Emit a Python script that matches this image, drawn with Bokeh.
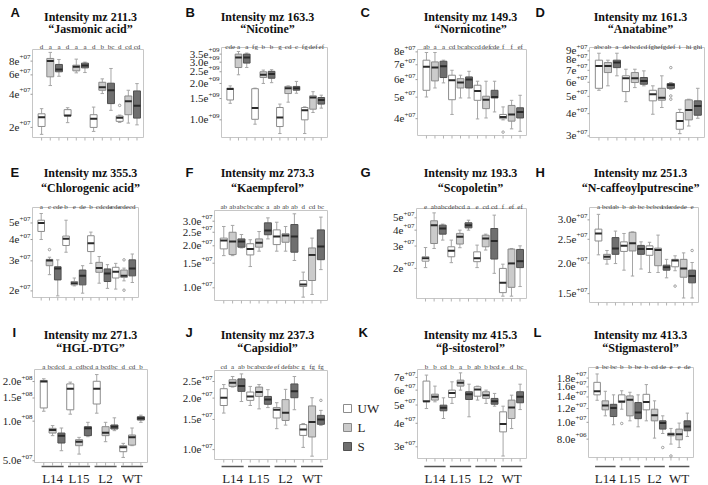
import math
from bokeh.plotting import figure
from bokeh.layouts import row, column
from bokeh.models import Range1d, ColumnDataSource
from bokeh.core.properties import value
from bokeh.embed import file_html
from bokeh.resources import INLINE

# ------------------------------------------------------------------ data
positions = list(range(1, 13))
treatments = ["UW", "L", "S"] * 4
line_names = ["L14", "L15", "L2", "WT"]
legend_labels = ["UW", "L", "S"]

A_title = ["Intensity mz 211.3", "\u201cJasmonic acid\u201d"]
A_letters = ["d", "a", "a", "d", "a", "a", "d", "b", "bc", "d", "cd", "cd"]
A_hi = [2.96e7, 9.6e7, 8.28e7, 3.02e7, 8.34e7, 7.83e7, 3.06e7, 5.52e7, 6.86e7, 2.59e7, 4.35e7, 5.0e7]
A_q3 = [2.66e7, 8.46e7, 7.46e7, 2.90e7, 7.35e7, 7.67e7, 2.61e7, 5.14e7, 5.04e7, 2.54e7, 3.86e7, 4.29e7]
A_med = [2.47e7, 8.0e7, 6.72e7, 2.57e7, 7.10e7, 7.30e7, 2.40e7, 4.63e7, 4.35e7, 2.45e7, 3.45e7, 3.15e7]
A_q1 = [2.04e7, 5.76e7, 6.40e7, 2.54e7, 6.53e7, 6.95e7, 2.0e7, 4.35e7, 3.29e7, 2.27e7, 2.61e7, 2.43e7]
A_lo = [1.73e7, 4.80e7, 5.83e7, 2.21e7, 6.26e7, 6.30e7, 1.84e7, 4.06e7, 2.86e7, 2.22e7, 2.19e7, 2.11e7]
A_out_x = [10]
A_out_y = [3.17e7]
A_ticks = [2e7, 4e7, 6e7, 8e7]
A_tick_labels = ["2e+07", "4e+07", "6e+07", "8e+07"]

B_title = ["Intensity mz 163.3", "\u201cNicotine\u201d"]
B_letters = ["cde", "a", "a", "fg", "b", "b", "g", "cd", "c", "fg", "def", "ef"]
B_hi = [1.91e9, 3.68e9, 3.57e9, 1.83e9, 2.58e9, 2.60e9, 1.35e9, 1.91e9, 2.08e9, 1.28e9, 1.71e9, 1.60e9]
B_q3 = [1.83e9, 3.50e9, 3.50e9, 1.81e9, 2.50e9, 2.52e9, 1.265e9, 1.89e9, 1.89e9, 1.265e9, 1.58e9, 1.53e9]
B_med = [1.80e9, 3.28e9, 3.28e9, 1.25e9, 2.36e9, 2.39e9, 1.045e9, 1.83e9, 1.83e9, 1.20e9, 1.53e9, 1.46e9]
B_q1 = [1.46e9, 2.71e9, 2.95e9, 1.01e9, 2.24e9, 2.21e9, 0.88e9, 1.65e9, 1.76e9, 1.0e9, 1.225e9, 1.35e9]
B_lo = [1.37e9, 2.36e9, 2.71e9, 0.92e9, 2.0e9, 2.03e9, 0.77e9, 1.40e9, 1.66e9, 0.77e9, 1.15e9, 1.25e9]
B_out_x = []
B_out_y = []
B_ticks = [1.0e9, 1.5e9, 2.0e9, 2.5e9, 3.0e9, 3.5e9]
B_tick_labels = ["1.0e+09", "1.5e+09", "2.0e+09", "2.5e+09", "3.0e+09", "3.5e+09"]

C_title = ["Intensity mz 149.3", "\u201cNornicotine\u201d"]
C_letters = ["ab", "a", "a", "cd", "bc", "abc", "cd", "def", "cde", "f", "f", "ef"]
C_hi = [7.95e7, 7.95e7, 7.34e7, 6.61e7, 6.28e7, 6.54e7, 5.90e7, 5.90e7, 5.90e7, 4.52e7, 4.84e7, 5.10e7]
C_q3 = [7.34e7, 7.21e7, 7.26e7, 6.28e7, 6.06e7, 6.17e7, 5.66e7, 5.05e7, 5.37e7, 4.18e7, 4.59e7, 4.48e7]
C_med = [6.85e7, 6.80e7, 6.90e7, 5.96e7, 5.82e7, 6.00e7, 5.33e7, 4.87e7, 5.01e7, 4.07e7, 4.18e7, 4.29e7]
C_q1 = [5.37e7, 5.92e7, 6.13e7, 4.87e7, 5.50e7, 5.50e7, 4.84e7, 4.44e7, 4.96e7, 4.00e7, 3.90e7, 4.03e7]
C_lo = [5.01e7, 5.50e7, 5.80e7, 4.18e7, 4.96e7, 4.96e7, 3.99e7, 4.03e7, 4.29e7, 3.95e7, 3.60e7, 3.51e7]
C_out_x = [10]
C_out_y = [3.48e7]
C_ticks = [4e7, 5e7, 6e7, 7e7, 8e7]
C_tick_labels = ["4e+07", "5e+07", "6e+07", "7e+07", "8e+07"]

D_title = ["Intensity mz 161.3", "\u201cAnatabine\u201d"]
D_letters = ["abc", "ab", "a", "de", "bcd", "cd", "fgh", "efg", "def", "i", "hi", "ghi"]
D_hi = [8.73e7, 7.98e7, 8.73e7, 7.10e7, 7.10e7, 6.95e7, 5.73e7, 6.52e7, 5.98e7, 4.23e7, 4.82e7, 5.55e7]
D_q3 = [7.98e7, 7.74e7, 7.98e7, 6.52e7, 6.80e7, 6.38e7, 5.41e7, 5.55e7, 5.90e7, 4.06e7, 4.78e7, 4.72e7]
D_med = [7.41e7, 7.41e7, 7.74e7, 6.32e7, 6.32e7, 6.10e7, 5.14e7, 4.92e7, 5.80e7, 3.64e7, 4.20e7, 4.42e7]
D_q1 = [5.55e7, 6.80e7, 7.25e7, 5.32e7, 5.98e7, 5.85e7, 4.72e7, 4.76e7, 5.55e7, 3.27e7, 3.69e7, 3.92e7]
D_lo = [5.41e7, 5.73e7, 6.52e7, 4.67e7, 5.60e7, 5.73e7, 3.97e7, 4.33e7, 5.48e7, 3.09e7, 3.41e7, 3.77e7]
D_out_x = [9, 9, 9]
D_out_y = [7.25e7, 5.03e7, 4.82e7]
D_ticks = [3e7, 4e7, 5e7, 6e7, 7e7, 8e7, 9e7]
D_tick_labels = ["3e+07", "4e+07", "5e+07", "6e+07", "7e+07", "8e+07", "9e+07"]

E_title = ["Intensity mz 355.3", "\u201cChlorogenic acid\u201d"]
E_letters = ["a", "c", "cde", "b", "e", "de", "b", "cd", "cde", "cde", "cde", "cd"]
E_hi = [5.68e7, 3.15e7, 3.04e7, 5.19e7, 2.38e7, 2.81e7, 4.42e7, 3.18e7, 2.85e7, 2.90e7, 2.72e7, 3.29e7]
E_q3 = [5.19e7, 3.06e7, 2.77e7, 4.19e7, 2.27e7, 2.65e7, 4.21e7, 2.94e7, 2.69e7, 2.75e7, 2.65e7, 3.04e7]
E_med = [5.00e7, 3.01e7, 2.71e7, 4.04e7, 2.22e7, 2.45e7, 3.81e7, 2.72e7, 2.53e7, 2.59e7, 2.45e7, 2.71e7]
E_q1 = [4.46e7, 2.81e7, 2.32e7, 3.69e7, 2.17e7, 2.17e7, 3.40e7, 2.57e7, 2.27e7, 2.38e7, 2.40e7, 2.45e7]
E_lo = [4.00e7, 2.49e7, 1.87e7, 3.37e7, 2.14e7, 1.94e7, 2.90e7, 2.22e7, 2.07e7, 2.05e7, 2.29e7, 2.24e7]
E_out_x = [2, 11, 11]
E_out_y = [3.49e7, 3.04e7, 2.02e7]
E_ticks = [2e7, 3e7, 4e7, 5e7]
E_tick_labels = ["2e+07", "3e+07", "4e+07", "5e+07"]

F_title = ["Intensity mz 273.3", "\u201cKaempferol\u201d"]
F_letters = ["ab", "ab", "abc", "bc", "abc", "a", "ab", "ab", "ab", "d", "cd", "bc"]
F_hi = [2.75e7, 2.80e7, 2.41e7, 2.21e7, 2.53e7, 3.17e7, 2.95e7, 2.75e7, 3.39e7, 1.295e7, 2.27e7, 3.21e7]
F_q3 = [2.27e7, 2.50e7, 2.24e7, 2.07e7, 2.24e7, 2.92e7, 2.60e7, 2.44e7, 2.84e7, 1.128e7, 1.93e7, 2.60e7]
F_med = [2.18e7, 2.15e7, 2.15e7, 1.90e7, 2.10e7, 2.57e7, 2.33e7, 2.37e7, 2.33e7, 1.056e7, 1.72e7, 1.98e7]
F_q1 = [1.90e7, 1.73e7, 1.955e7, 1.72e7, 1.955e7, 2.40e7, 2.04e7, 2.12e7, 1.80e7, 1.022e7, 1.128e7, 1.59e7]
F_lo = [1.70e7, 1.70e7, 1.93e7, 1.42e7, 1.83e7, 2.24e7, 1.83e7, 1.83e7, 1.57e7, 0.857e7, 0.896e7, 1.35e7]
F_out_x = []
F_out_y = []
F_ticks = [1.0e7, 1.5e7, 2.0e7, 2.5e7, 3.0e7]
F_tick_labels = ["1.0e+07", "1.5e+07", "2.0e+07", "2.5e+07", "3.0e+07"]

G_title = ["Intensity mz 193.3", "\u201cScopoletin\u201d"]
G_letters = ["e", "ab", "abc", "de", "bcd", "a", "e", "cd", "cd", "f", "ef", "ef"]
G_hi = [2.92e7, 5.47e7, 4.46e7, 3.34e7, 4.00e7, 4.79e7, 3.05e7, 3.72e7, 5.25e7, 2.16e7, 2.87e7, 3.01e7]
G_q3 = [2.47e7, 4.74e7, 4.38e7, 2.96e7, 3.77e7, 4.57e7, 2.70e7, 3.65e7, 4.12e7, 2.00e7, 2.84e7, 2.82e7]
G_med = [2.40e7, 4.38e7, 4.12e7, 2.75e7, 3.55e7, 4.38e7, 2.40e7, 3.44e7, 3.28e7, 1.54e7, 2.19e7, 2.28e7]
G_q1 = [2.28e7, 3.14e7, 3.72e7, 2.47e7, 3.11e7, 4.17e7, 2.26e7, 2.96e7, 2.37e7, 1.29e7, 1.42e7, 2.03e7]
G_lo = [2.03e7, 2.87e7, 3.34e7, 2.22e7, 2.91e7, 4.00e7, 2.03e7, 2.79e7, 1.83e7, 1.21e7, 1.21e7, 1.44e7]
G_out_x = []
G_out_y = []
G_ticks = [2e7, 3e7, 4e7, 5e7]
G_tick_labels = ["2e+07", "3e+07", "4e+07", "5e+07"]

H_title = ["Intensity mz 251.3", "\u201cN-caffeoylputrescine\u201d"]
H_letters = ["a", "bcd", "ab", "b", "ab", "bc", "bc", "bcd", "cde", "cde", "de", "e"]
H_hi = [3.16e7, 2.25e7, 2.70e7, 2.64e7, 2.68e7, 2.44e7, 2.43e7, 2.60e7, 2.07e7, 2.14e7, 2.20e7, 2.01e7]
H_q3 = [2.75e7, 2.17e7, 2.54e7, 2.44e7, 2.67e7, 2.36e7, 2.35e7, 2.30e7, 1.96e7, 2.07e7, 2.07e7, 1.87e7]
H_med = [2.64e7, 2.12e7, 2.29e7, 2.35e7, 2.41e7, 2.28e7, 2.28e7, 2.26e7, 1.92e7, 2.05e7, 1.90e7, 1.77e7]
H_q1 = [2.46e7, 2.07e7, 2.17e7, 2.23e7, 2.24e7, 2.17e7, 2.15e7, 1.95e7, 1.87e7, 1.93e7, 1.75e7, 1.66e7]
H_lo = [2.16e7, 1.98e7, 1.99e7, 1.87e7, 1.77e7, 1.89e7, 1.83e7, 1.83e7, 1.74e7, 1.86e7, 1.44e7, 1.44e7]
H_out_x = [10, 12]
H_out_y = [1.61e7, 2.25e7]
H_ticks = [1.5e7, 2.0e7, 2.5e7, 3.0e7]
H_tick_labels = ["1.5e+07", "2.0e+07", "2.5e+07", "3.0e+07"]

I_title = ["Intensity mz 271.3", "\u201cHGL-DTG\u201d"]
I_letters = ["a", "bcd", "cd", "a", "cd", "bcd", "a", "bcd", "bc", "d", "cd", "b"]
I_hi = [2.10e8, 9.25e7, 8.87e7, 1.98e8, 7.53e7, 9.80e7, 2.26e8, 9.80e7, 1.06e8, 6.78e7, 8.87e7, 1.11e8]
I_q3 = [2.04e8, 8.82e7, 8.12e7, 1.92e8, 7.23e7, 9.08e7, 2.01e8, 9.08e7, 9.35e7, 6.51e7, 7.85e7, 1.08e8]
I_med = [2.00e8, 8.57e7, 7.76e7, 1.76e8, 6.98e7, 8.82e7, 1.76e8, 8.18e7, 9.08e7, 6.32e7, 7.53e7, 1.05e8]
I_q1 = [1.26e8, 8.12e7, 6.82e7, 1.22e8, 6.51e7, 7.76e7, 1.35e8, 7.76e7, 8.72e7, 5.86e7, 6.58e7, 1.02e8]
I_lo = [1.19e8, 7.76e7, 5.96e7, 1.13e8, 5.62e7, 7.62e7, 1.15e8, 6.98e7, 8.47e7, 5.30e7, 6.51e7, 9.80e7]
I_out_x = []
I_out_y = []
I_ticks = [5.0e7, 1.0e8, 1.5e8, 2.0e8]
I_tick_labels = ["5.0e+07", "1.0e+08", "1.5e+08", "2.0e+08"]

J_title = ["Intensity mz 237.3", "\u201cCapsidiol\u201d"]
J_letters = ["cd", "a", "ab", "bc", "abc", "cde", "ef", "def", "abc", "g", "fg", "fg"]
J_hi = [2.40e7, 2.675e7, 2.77e7, 2.34e7, 2.40e7, 2.24e7, 1.88e7, 2.25e7, 2.675e7, 1.42e7, 2.01e7, 1.695e7]
J_q3 = [2.27e7, 2.56e7, 2.59e7, 2.17e7, 2.32e7, 2.045e7, 1.76e7, 1.96e7, 2.42e7, 1.40e7, 1.80e7, 1.585e7]
J_med = [2.01e7, 2.46e7, 2.35e7, 2.045e7, 2.17e7, 1.96e7, 1.71e7, 1.64e7, 2.19e7, 1.31e7, 1.45e7, 1.50e7]
J_q1 = [1.81e7, 2.34e7, 2.19e7, 1.94e7, 2.045e7, 1.84e7, 1.53e7, 1.48e7, 2.01e7, 1.21e7, 1.185e7, 1.405e7]
J_lo = [1.635e7, 2.32e7, 1.91e7, 1.81e7, 1.73e7, 1.76e7, 1.325e7, 1.39e7, 1.71e7, 1.03e7, 0.915e7, 1.386e7]
J_out_x = [12]
J_out_y = [1.94e7]
J_ticks = [1.0e7, 1.5e7, 2.0e7, 2.5e7]
J_tick_labels = ["1.0e+07", "1.5e+07", "2.0e+07", "2.5e+07"]

K_title = ["Intensity mz 415.3", "\u201c\u03b2-sitosterol\u201d"]
K_letters = ["b", "b", "cd", "b", "a", "b", "ab", "b", "bcd", "e", "d", "bc"]
K_hi = [7.21e7, 6.30e7, 5.46e7, 6.64e7, 7.41e7, 6.45e7, 6.30e7, 6.00e7, 5.76e7, 4.93e7, 5.64e7, 6.45e7]
K_q3 = [6.70e7, 5.71e7, 4.99e7, 6.00e7, 6.78e7, 5.88e7, 6.25e7, 5.88e7, 5.42e7, 4.60e7, 5.31e7, 5.88e7]
K_med = [5.24e7, 5.53e7, 4.83e7, 5.80e7, 6.56e7, 5.71e7, 6.05e7, 5.64e7, 5.24e7, 3.96e7, 4.85e7, 5.53e7]
K_q1 = [5.20e7, 5.31e7, 4.66e7, 5.48e7, 6.30e7, 5.35e7, 5.57e7, 5.42e7, 5.05e7, 3.60e7, 4.24e7, 5.14e7]
K_lo = [4.79e7, 5.20e7, 4.24e7, 5.10e7, 6.00e7, 4.33e7, 5.31e7, 5.10e7, 4.93e7, 2.68e7, 3.75e7, 4.73e7]
K_out_x = []
K_out_y = []
K_ticks = [3e7, 4e7, 5e7, 6e7, 7e7]
K_tick_labels = ["3e+07", "4e+07", "5e+07", "6e+07", "7e+07"]

L_title = ["Intensity mz 413.3", "\u201cStigmasterol\u201d"]
L_letters = ["a", "bc", "bc", "b", "b", "be", "b", "cd", "de", "e", "e", "de"]
L_hi = [1.90e7, 1.51e7, 1.44e7, 1.52e7, 1.49e7, 1.44e7, 1.65e7, 1.33e7, 1.09e7, 9.22e6, 9.9e6, 1.13e7]
L_q3 = [1.70e7, 1.33e7, 1.27e7, 1.44e7, 1.42e7, 1.30e7, 1.45e7, 1.19e7, 1.02e7, 8.66e6, 9.14e6, 1.02e7]
L_med = [1.51e7, 1.25e7, 1.21e7, 1.32e7, 1.35e7, 1.14e7, 1.31e7, 1.10e7, 9.9e6, 8.55e6, 8.55e6, 9.46e6]
L_q1 = [1.44e7, 1.18e7, 1.08e7, 1.30e7, 1.09e7, 1.05e7, 1.18e7, 1.02e7, 9.14e6, 8.36e6, 7.93e6, 8.94e6]
L_lo = [1.34e7, 1.09e7, 9.68e6, 1.19e7, 1.02e7, 9.42e6, 1.02e7, 8.11e6, 8.62e6, 7.49e6, 7.16e6, 8.29e6]
L_out_x = [4, 9, 10]
L_out_y = [9.85e6, 7.16e6, 6.4e6]
L_ticks = [8.0e6, 1.0e7, 1.2e7, 1.4e7, 1.6e7, 1.8e7]
L_tick_labels = ["8.0e+06", "1.0e+07", "1.2e+07", "1.4e+07", "1.6e+07", "1.8e+07"]

# ------------------------------------------------------------------ style / layout
SERIF = "Liberation Serif"
SANS = "Liberation Sans"
TEXT = "#1e1e1e"
FILL = {"UW": "#ffffff", "L": "#cbcbcb", "S": "#6f6f6f"}
EDGE = {"UW": "#8c8c8c", "L": "#8a8a8a", "S": "#505050"}
MED = "#2a2a2a"
WHISK = "#a6a6a6"
FRAME = "#c6c6c6"
X0, X1 = -0.05, 12.75          # visible x extent of every panel box

ROWS = [(0, 160), (160, 160), (320, 165)]          # figure top, figure height (px)
COLS = [[(0, 177), (177, 175), (352, 175), (527, 181)],
        [(0, 177), (177, 175), (352, 175), (527, 181)],
        [(0, 177), (177, 163), (340, 187), (527, 181)]]
# baselines (px): panel letter, title line 1, title line 2, significance letters
ROW_TEXT = [(12, 16, 28, 46), (172, 172, 187, 206), (332, 334, 347, 366)]
TITLE_CX = [90, 267, 470, 640]

# key: (row, col, box left, box right, box top, box bottom, y range, letter x)
GEOM = {
    "A": (0, 0, 32, 143, 49, 137, (1.62e7, 1.02e8), 10),
    "B": (0, 1, 221, 327, 47, 137, (7.14e8, 3.97e9), 185),
    "C": (0, 2, 417, 526, 49, 135, (3.36e7, 8.2e7), 360),
    "D": (0, 3, 589, 704, 47, 137, (2.94e7, 9.4e7), 535),
    "E": (1, 0, 32, 138, 207, 297, (1.83e7, 6.16e7), 10),
    "F": (1, 1, 214, 327, 210, 300, (8.11e6, 3.58e7), 185),
    "G": (1, 2, 416, 526, 208, 298, (1.16e7, 5.92e7), 360),
    "H": (1, 3, 589, 698, 207, 302, (1.38e7, 3.37e7), 535),
    "I": (2, 0, 34, 147, 369, 462, (4.85e7, 2.47e8), 12),
    "J": (2, 1, 214, 327, 370, 459, (8.75e6, 2.90e7), 185),
    "K": (2, 2, 417, 526, 369, 458, (2.60e7, 7.72e7), 358),
    "L": (2, 3, 588, 693, 367, 457, (6.27e6, 2.07e7), 533),
}

DATA = {
    "A": (A_title, A_letters, A_hi, A_q3, A_med, A_q1, A_lo, A_out_x, A_out_y, A_ticks, A_tick_labels),
    "B": (B_title, B_letters, B_hi, B_q3, B_med, B_q1, B_lo, B_out_x, B_out_y, B_ticks, B_tick_labels),
    "C": (C_title, C_letters, C_hi, C_q3, C_med, C_q1, C_lo, C_out_x, C_out_y, C_ticks, C_tick_labels),
    "D": (D_title, D_letters, D_hi, D_q3, D_med, D_q1, D_lo, D_out_x, D_out_y, D_ticks, D_tick_labels),
    "E": (E_title, E_letters, E_hi, E_q3, E_med, E_q1, E_lo, E_out_x, E_out_y, E_ticks, E_tick_labels),
    "F": (F_title, F_letters, F_hi, F_q3, F_med, F_q1, F_lo, F_out_x, F_out_y, F_ticks, F_tick_labels),
    "G": (G_title, G_letters, G_hi, G_q3, G_med, G_q1, G_lo, G_out_x, G_out_y, G_ticks, G_tick_labels),
    "H": (H_title, H_letters, H_hi, H_q3, H_med, H_q1, H_lo, H_out_x, H_out_y, H_ticks, H_tick_labels),
    "I": (I_title, I_letters, I_hi, I_q3, I_med, I_q1, I_lo, I_out_x, I_out_y, I_ticks, I_tick_labels),
    "J": (J_title, J_letters, J_hi, J_q3, J_med, J_q1, J_lo, J_out_x, J_out_y, J_ticks, J_tick_labels),
    "K": (K_title, K_letters, K_hi, K_q3, K_med, K_q1, K_lo, K_out_x, K_out_y, K_ticks, K_tick_labels),
    "L": (L_title, L_letters, L_hi, L_q3, L_med, L_q1, L_lo, L_out_x, L_out_y, L_ticks, L_tick_labels),
}


def make_panel(key):
    r, c, il, ir, it, ib, (y0, y1), letter_x = GEOM[key]
    title, letters, hi, q3, med, q1, lo, ox, oy, ticks, tick_labels = DATA[key]
    fx, fw = COLS[r][c]
    fy, fh = ROWS[r]

    # the whole canvas is the plotting frame; the visible box sits inside it
    xpu = (X1 - X0) / (ir - il)
    xs = X0 - (il - fx) * xpu
    xe = X1 + (fx + fw - ir) * xpu
    l0, l1 = math.log10(y0), math.log10(y1)
    dpp = (l1 - l0) / (ib - it)
    le = l1 + (it - fy) * dpp
    ls = l0 - (fy + fh - ib) * dpp

    def X(px):
        return xs + (px - fx) * xpu

    def Y(py):
        return 10 ** (le - (py - fy) * dpp)

    p = figure(width=fw, height=fh, y_axis_type="log", title=None,
               x_range=Range1d(xs, xe), y_range=Range1d(10 ** ls, 10 ** le),
               x_axis_location=None, y_axis_location=None,
               output_backend="svg", toolbar_location=None, min_border=0)
    p.outline_line_color = None
    p.xgrid.visible = False
    p.ygrid.visible = False
    p.background_fill_color = "white"
    p.border_fill_color = "white"

    # panel box
    p.quad(left=[X0], right=[X1], bottom=[y0], top=[y1], fill_color=None,
           line_color=FRAME, line_width=1)
    # x ticks below the box
    p.segment(x0=positions, x1=positions, y0=[y0] * 12, y1=[Y(ib + 3)] * 12,
              line_color="#b4b4b4", line_width=1)
    # y ticks and labels (mantissa + raised exponent)
    n = len(ticks)
    p.segment(x0=[X(il - 2)] * n, x1=[X0] * n, y0=ticks, y1=ticks,
              line_color="#9a9a9a", line_width=1)
    mains = [lab.split("+")[0] for lab in tick_labels]
    exps = ["+" + lab.split("+")[1] for lab in tick_labels]
    p.text(x=[X(il - 13)] * n, y=ticks, text=mains, text_align="right",
           text_baseline="middle", text_font=value(SERIF), text_font_size="11px",
           text_color=TEXT)
    p.text(x=[X(il - 13)] * n, y=ticks, text=exps, text_align="left",
           text_baseline="middle", y_offset=-4, text_font=value(SERIF),
           text_font_size="7px", text_color=TEXT)

    # boxes
    src = ColumnDataSource(dict(
        x=positions, hi=hi, q3=q3, med=med, q1=q1, lo=lo,
        x0=[v - 0.4 for v in positions], x1=[v + 0.4 for v in positions],
        c0=[v - 0.2 for v in positions], c1=[v + 0.2 for v in positions],
        fill=[FILL[t] for t in treatments], edge=[EDGE[t] for t in treatments]))
    p.segment("x", "q3", "x", "hi", source=src, line_color=WHISK, line_width=1)
    p.segment("x", "q1", "x", "lo", source=src, line_color=WHISK, line_width=1)
    p.segment("c0", "hi", "c1", "hi", source=src, line_color=WHISK, line_width=1)
    p.segment("c0", "lo", "c1", "lo", source=src, line_color=WHISK, line_width=1)
    p.vbar(x="x", width=0.8, bottom="q1", top="q3", source=src,
           fill_color="fill", line_color="edge", line_width=1)
    p.segment("x0", "med", "x1", "med", source=src, line_color=MED, line_width=2)
    if ox:
        p.scatter(ox, oy, marker="circle", size=2.5, fill_color=None,
                  line_color="#8c8c8c", line_width=0.8)

    b_letter, b_t1, b_t2, b_sig = ROW_TEXT[r]
    # significance letters
    p.text(x=positions, y=[Y(b_sig)] * 12, text=letters, text_align="center",
           text_baseline="alphabetic", text_font=value(SERIF),
           text_font_size="7px", text_color="#3a3a3a")
    # panel letter and two-line title
    p.text(x=[X(letter_x)], y=[Y(b_letter)], text=[key], text_align="left",
           text_baseline="alphabetic", text_font=value(SANS), text_font_style="bold",
           text_font_size="13px", text_color="#111111")
    p.text(x=[X(TITLE_CX[c])] * 2, y=[Y(b_t1), Y(b_t2)], text=title,
           text_align="center", text_baseline="alphabetic", text_font=value(SERIF),
           text_font_style="bold", text_font_size="12px", text_color="#111111")

    if r == 2:
        mids = [positions[3 * g + 1] for g in range(4)]
        p.segment(x0=[m - 1.25 for m in mids], x1=[m + 1.25 for m in mids],
                  y0=[Y(466)] * 4, y1=[Y(466)] * 4, line_color="#555555", line_width=1.5)
        p.text(x=mids, y=[Y(478)] * 4, text=line_names, text_align="center",
               text_baseline="alphabetic", text_font=value(SERIF),
               text_font_size="13px", text_color=TEXT)
    if key == "K":
        # shared legend, drawn in the gap between panels J and K
        ly = [Y(408), Y(427), Y(446)]
        p.scatter(x=[X(347)] * 3, y=ly, marker="square", size=8,
                  fill_color=[FILL[t] for t in legend_labels],
                  line_color=[EDGE[t] for t in legend_labels], line_width=1)
        p.text(x=[X(357)] * 3, y=ly, text=legend_labels, text_align="left",
               text_baseline="middle", text_font=value(SERIF),
               text_font_size="13px", text_color=TEXT)
    return p


figs = {k: make_panel(k) for k in "ABCDEFGHIJKL"}
layout = column(
    row(figs["A"], figs["B"], figs["C"], figs["D"]),
    row(figs["E"], figs["F"], figs["G"], figs["H"]),
    row(figs["I"], figs["J"], figs["K"], figs["L"]),
)

open("out.html", "w").write(file_html(layout, INLINE))
